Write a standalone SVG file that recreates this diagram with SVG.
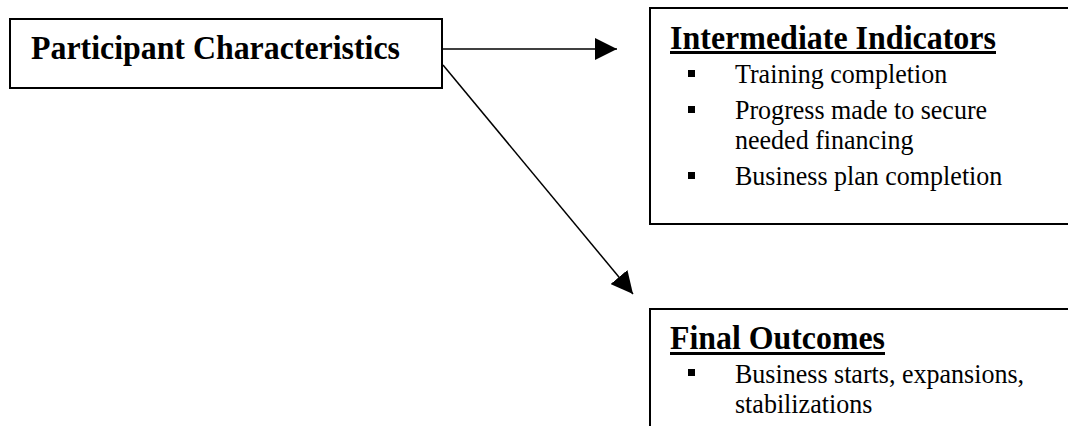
<svg xmlns="http://www.w3.org/2000/svg" width="1068" height="426" viewBox="0 0 1068 426">
<style>
.box{fill:#fff;stroke:#000;stroke-width:2}
.head{font-family:"Liberation Serif","Times New Roman",serif;font-weight:bold;font-size:33px;fill:#000}
.body{font-family:"Liberation Serif","Times New Roman",serif;font-size:28px;fill:#000}
.conn{stroke:#000;stroke-width:1.5;fill:none}
.ul{fill:#000}
.bul{fill:#000}
</style>
<defs>
<marker id="arr" markerUnits="userSpaceOnUse" markerWidth="22" markerHeight="22" refX="20" refY="10" orient="auto" viewBox="0 0 20 20">
<path d="M0,0 L20,10 L0,20 Z" fill="#000"/>
</marker>
</defs>
<g id="connectors">
<line class="conn" x1="442" y1="49" x2="617" y2="49" marker-end="url(#arr)"/>
<line class="conn" x1="443" y1="65" x2="633" y2="294" marker-end="url(#arr)"/>
</g>
<g id="participant">
<rect class="box" x="10" y="19" width="432" height="69"/>
<text class="head" x="31" y="59" textLength="369" lengthAdjust="spacingAndGlyphs">Participant Characteristics</text>
</g>
<g id="intermediate">
<rect class="box" x="650" y="8" width="430" height="216"/>
<text class="head" x="670" y="49" textLength="326" lengthAdjust="spacingAndGlyphs">Intermediate Indicators</text>
<rect class="ul" x="670" y="51" width="326" height="3"/>
<rect class="bul" x="688" y="70" width="7" height="7"/>
<rect class="bul" x="688" y="106" width="7" height="7"/>
<rect class="bul" x="688" y="172" width="7" height="7"/>
<g transform="scale(0.93,1)">
<text class="body" x="790.3" y="83">Training completion</text>
<text class="body" x="790.3" y="119">Progress made to secure</text>
<text class="body" x="790.3" y="149">needed financing</text>
<text class="body" x="790.3" y="185">Business plan completion</text>
</g>
</g>
<g id="final">
<rect class="box" x="650" y="309" width="430" height="140"/>
<text class="head" x="670" y="349" textLength="215" lengthAdjust="spacingAndGlyphs">Final Outcomes</text>
<rect class="ul" x="670" y="352" width="215" height="3"/>
<rect class="bul" x="688" y="369" width="7" height="7"/>
<g transform="scale(0.93,1)">
<text class="body" x="790.3" y="383">Business starts, expansions,</text>
<text class="body" x="790.3" y="413">stabilizations</text>
</g>
</g>
</svg>
